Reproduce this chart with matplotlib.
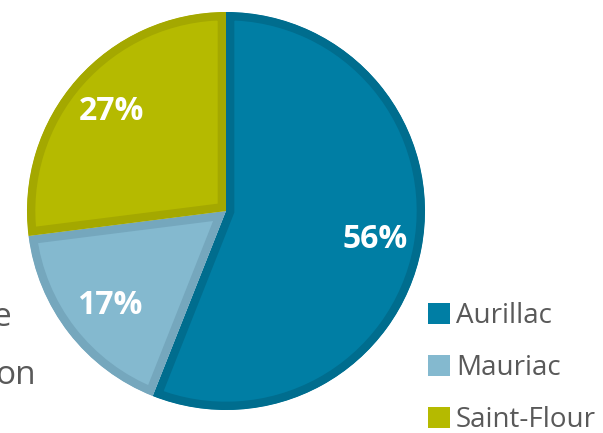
import matplotlib.pyplot as plt
from matplotlib.patches import Patch

labels = ['Aurillac', 'Mauriac', 'Saint-Flour']
values = [56, 17, 27]
colors = ['#007ea4', '#84b9cf', '#b5ba00']
edges = ['#006d8e', '#75a7bd', '#a4a800']

plt.rcParams['font.family'] = ['Open Sans', 'DejaVu Sans']

fig = plt.figure(figsize=(6.03, 4.33), dpi=100)
ax = fig.add_axes([0, 0, 1, 1])

wedges, texts = ax.pie(values, colors=colors, startangle=90, counterclock=False,
                       center=(226, 222), radius=199)
for w, ec in zip(wedges, edges):
    w.set_edgecolor(ec)
    w.set_linewidth(12)
    w.set_clip_on(True)
    w.set_clip_path(w)

# percent labels
pos = [(375, 193), (110, 127), (111, 321)]
for (x, y), v in zip(pos, values):
    ax.text(x, y, f'{v}%', color='white', fontsize=23, fontweight='bold',
            ha='center', va='center')

# text cut off by the left edge
ax.text(11, 116, 'e', color='#595959', fontsize=24, ha='right', va='center')
ax.text(36, 58, 'on', color='#595959', fontsize=24, ha='right', va='center')

handles = [Patch(facecolor=c) for c in colors]
ax.legend(handles, labels, loc='upper left', bbox_to_anchor=(428 / 603, 1 - 302 / 433),
          frameon=False, fontsize=20, handlelength=0.8, handleheight=0.8,
          handletextpad=0.2, labelspacing=0.87, borderaxespad=0, borderpad=0,
          labelcolor='#595959')

ax.set_xlim(0, 603)
ax.set_ylim(0, 433)
ax.set_aspect('equal')
ax.axis('off')

fig.savefig('out.png', dpi=100)
